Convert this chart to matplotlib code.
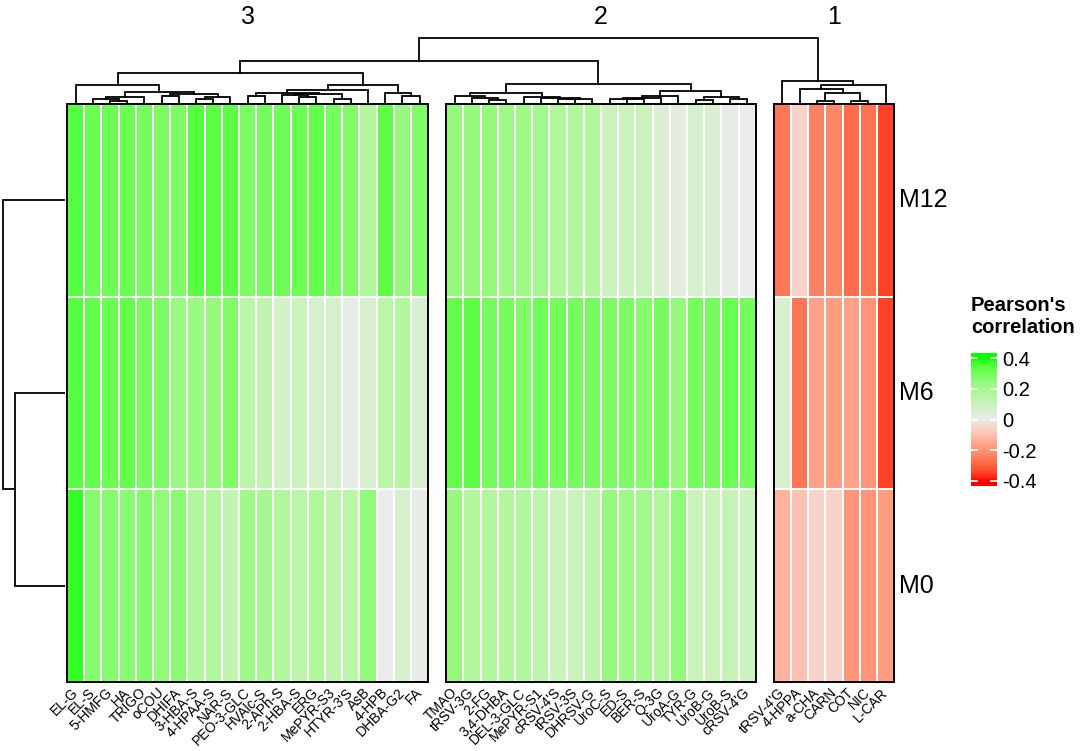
import numpy as np
import matplotlib
matplotlib.use("Agg")
import matplotlib.pyplot as plt
from matplotlib.colors import ListedColormap, Normalize

plt.rcParams['font.family'] = ['Liberation Sans', 'DejaVu Sans']
plt.rcParams['axes.unicode_minus'] = False

rows = ['M12', 'M6', 'M0']
cluster_names = ['3', '2', '1']

cols3 = ['EL-G', 'EL-S', '5-HMFG', 'HA', 'TRIGO', 'oCOU', 'DHIFA', '3-HBA-S',
         '4-HPAA-S', 'NAR-S', 'PEO-3-GLC', 'HVAlc-S', '2-APh-S', '2-HBA-S',
         'ERG', 'MePYR-S3', "HTYR-3'S", 'AsB', '4-HPB', 'DHBA-G2', 'FA']
cols2 = ['TMAO', 'tRSV-3G', '2-FG', '3,4-DHBA', 'DEL-3-GLC', 'MePYR-S1',
         "cRSV-4'S", 'tRSV-3S', 'DHRSV-G', 'UroC-S', 'ED-S', 'BER-S', 'Q-3G',
         'UroA-G', 'TYR-G', 'UroB-G', 'UroB-S', "cRSV-4'G"]
cols1 = ["tRSV-4'G", '4-HPPA', 'a-CHA', 'CARN', 'COT', 'NIC', 'L-CAR']

# rows: M12, M6, M0
vals3 = [
    [0.35, 0.32, 0.31, 0.32, 0.30, 0.29, 0.29, 0.35, 0.34, 0.34, 0.29,
     0.30, 0.31, 0.32, 0.33, 0.30, 0.28, 0.17, 0.34, 0.24, 0.28],
    [0.35, 0.33, 0.32, 0.33, 0.30, 0.29, 0.23, 0.23, 0.24, 0.28, 0.15,
     0.13, 0.08, 0.11, 0.07, 0.07, 0.01, 0.06, 0.15, 0.17, 0.06],
    [0.38, 0.27, 0.27, 0.26, 0.28, 0.25, 0.26, 0.17, 0.17, 0.13, 0.22,
     0.20, 0.18, 0.15, 0.18, 0.14, 0.15, 0.25, 0.00, 0.07, 0.01],
]
vals2 = [
    [0.24, 0.24, 0.24, 0.22, 0.22, 0.21, 0.18, 0.17, 0.17, 0.10, 0.10,
     0.11, 0.05, 0.03, 0.07, 0.06, 0.02, 0.00],
    [0.33, 0.335, 0.30, 0.30, 0.28, 0.31, 0.30, 0.30, 0.30, 0.29, 0.29,
     0.27, 0.30, 0.24, 0.30, 0.30, 0.32, 0.30],
    [0.24, 0.17, 0.17, 0.17, 0.17, 0.14, 0.11, 0.11, 0.14, 0.24, 0.22,
     0.21, 0.18, 0.25, 0.11, 0.11, 0.12, 0.10],
]
vals1 = [
    [-0.26, -0.06, -0.24, -0.23, -0.28, -0.27, -0.35],
    [0.07, -0.26, -0.17, -0.18, -0.17, -0.20, -0.35],
    [-0.13, -0.10, -0.06, -0.06, -0.20, -0.20, -0.18],
]

# dendrograms: (height, left, right)
tree3 = (30.5,
         (18.5, 'EL-G',
          (11, (6, (3.7, 'EL-S', (1.7, '5-HMFG', 'HA')), 'TRIGO'),
               (9.3, (6.7, 'oCOU', 'DHIFA'),
                     (5.7, (3.7, '3-HBA-S', '4-HPAA-S'), 'NAR-S')))),
         (18, (12.7, (10, (7, 'PEO-3-GLC', 'HVAlc-S'),
                          (8.7, (7.7, '2-APh-S', (6.3, '2-HBA-S', 'ERG')),
                                (4.3, 'MePYR-S3', "HTYR-3'S"))), 'AsB'),
              (10.3, '4-HPB', (6.7, 'DHBA-G2', 'FA'))))
tree2 = (19,
         (9.7, (7.3, 'TMAO', (4.7, 'tRSV-3G', (2.7, '2-FG', '3,4-DHBA'))),
               (6.3, 'DEL-3-GLC',
                (4.7, 'MePYR-S1', (4.3, (4, "cRSV-4'S", 'tRSV-3S'), 'DHRSV-G')))),
         (12, (7.3, (5, (4.3, 'UroC-S', (4, 'ED-S', 'BER-S')), 'Q-3G'), 'UroA-G'),
              (6.3, (2.7, 'TYR-G', 'UroB-G'), (4, 'UroB-S', "cRSV-4'G"))))
tree1 = (22.3, "tRSV-4'G",
         (18, (13.7, '4-HPPA', (9.7, (2.3, 'a-CHA', 'CARN'), (2.3, 'COT', 'NIC'))),
          'L-CAR'))
col_tree = (65, (42, tree3, tree2), tree1)
row_tree = (62, 'M12', (50, 'M6', 'M0'))


# colour ramp interpolated in LAB space: red -> grey -> green
def srgb_to_lab(c):
    c = np.asarray(c, float)
    lin = np.where(c <= 0.04045, c / 12.92, ((c + 0.055) / 1.055) ** 2.4)
    m = np.array([[0.4124, 0.3576, 0.1805], [0.2126, 0.7152, 0.0722], [0.0193, 0.1192, 0.9505]])
    xyz = m @ lin / np.array([0.95047, 1.0, 1.08883])
    f = np.where(xyz > 0.008856, np.cbrt(xyz), 7.787 * xyz + 16 / 116)
    return np.array([116 * f[1] - 16, 500 * (f[0] - f[1]), 200 * (f[1] - f[2])])


def lab_to_srgb(lab):
    L, a, b = lab
    fy = (L + 16) / 116
    f = np.array([fy + a / 500, fy, fy - b / 200])
    xyz = np.where(f ** 3 > 0.008856, f ** 3, (f - 16 / 116) / 7.787) * np.array([0.95047, 1.0, 1.08883])
    m = np.array([[3.2406, -1.5372, -0.4986], [-0.9689, 1.8758, 0.0415], [0.0557, -0.2040, 1.0570]])
    lin = np.clip(m @ xyz, 0, 1)
    return np.clip(np.where(lin <= 0.0031308, 12.92 * lin, 1.055 * lin ** (1 / 2.4) - 0.055), 0, 1)


red = srgb_to_lab([1, 0, 0])
grey = srgb_to_lab([235 / 255] * 3)
green = srgb_to_lab([0, 1, 0])
ramp = []
for t in np.linspace(-1, 1, 257):
    if t < 0:
        ramp.append(lab_to_srgb(grey + (red - grey) * (-t)))
    else:
        ramp.append(lab_to_srgb(grey + (green - grey) * t))
cmap = ListedColormap(ramp)
norm = Normalize(-0.4, 0.4)

W, H = 1084, 751
top, bottom = 104, 682
cell_w, gap, x_start = 17.2, 18, 67


def rect(x0, y0, x1, y1):
    return [x0 / W, 1 - y1 / H, (x1 - x0) / W, (y1 - y0) / H]


fig = plt.figure(figsize=(W / 100, H / 100), dpi=100)

blocks = [(cols3, vals3), (cols2, vals2), (cols1, vals1)]
lefts = []
leaf_x = {}
x = x_start
for cols, vals in blocks:
    lefts.append(x)
    for i, c in enumerate(cols):
        leaf_x[c] = x + (i + 0.5) * cell_w
    x += len(cols) * cell_w + gap
x_end = lefts[-1] + len(cols1) * cell_w

for k, (cols, vals) in enumerate(blocks):
    n = len(cols)
    ax = fig.add_axes(rect(lefts[k], top, lefts[k] + n * cell_w, bottom))
    ax.pcolormesh(np.array(vals), cmap=cmap, norm=norm, edgecolors='white', linewidth=1.4)
    ax.set_xlim(0, n)
    ax.set_ylim(3, 0)
    ax.set_yticks([])
    ax.set_xticks(np.arange(n) + 0.5)
    ax.set_xticklabels(cols, rotation=45, ha='right', va='center', rotation_mode='anchor',
                       fontsize=10)
    ax.tick_params(axis='x', length=0, pad=6)
    for s in ax.spines.values():
        s.set_linewidth(1.4)
    fig.text((lefts[k] + n * cell_w / 2) / W, 1 - 17 / H, cluster_names[k],
             fontsize=18, ha='center', va='center')

row_h = (bottom - top) / 3
for i, r in enumerate(rows):
    fig.text(899 / W, 1 - (top + (i + 0.5) * row_h) / H, r, fontsize=18, ha='left', va='center')


def draw_tree(ax, node, pos, horizontal):
    if isinstance(node, str):
        return pos[node], 0.0
    h, left, right = node
    xl, hl = draw_tree(ax, left, pos, horizontal)
    xr, hr = draw_tree(ax, right, pos, horizontal)
    px = [xl, xl, xr, xr]
    py = [hl, h, h, hr]
    if horizontal:
        ax.plot(px, py, color='black', lw=1.3, solid_joinstyle='miter')
    else:
        ax.plot(py, px, color='black', lw=1.3, solid_joinstyle='miter')
    return (xl + xr) / 2, h


# column dendrogram
dax = fig.add_axes(rect(x_start, top - 1 - 70, x_end, top - 1))
draw_tree(dax, col_tree, leaf_x, True)
dax.set_xlim(x_start, x_end)
dax.set_ylim(0, 70)
dax.axis('off')

# row dendrogram
rax = fig.add_axes(rect(2, top, 65, bottom))
draw_tree(rax, row_tree, {r: i + 0.5 for i, r in enumerate(rows)}, False)
rax.set_xlim(63, 0)
rax.set_ylim(3, 0)
rax.axis('off')

# legend
cax = fig.add_axes(rect(971, 353, 997, 486))
lim = 0.436
grad = np.linspace(lim, -lim, 300)[:, None]
cax.imshow(grad, cmap=cmap, norm=norm, aspect='auto', extent=[0, 1, -lim, lim])
cax.set_xticks([])
ticks = [-0.4, -0.2, 0, 0.2, 0.4]
cax.set_yticks(ticks)
cax.set_yticklabels(['-0.4', '-0.2', '0', '0.2', '0.4'], fontsize=14.5)
cax.yaxis.tick_right()
cax.tick_params(axis='y', direction='in', color='white', length=5, width=1.2,
                left=True, right=True, pad=4)
for s in cax.spines.values():
    s.set_visible(False)
fig.text(971 / W, 1 - 296 / H, "Pearson's\ncorrelation", fontsize=14.5, fontweight='bold',
         ha='left', va='top', linespacing=1.2)

fig.savefig('out.png', dpi=100)
